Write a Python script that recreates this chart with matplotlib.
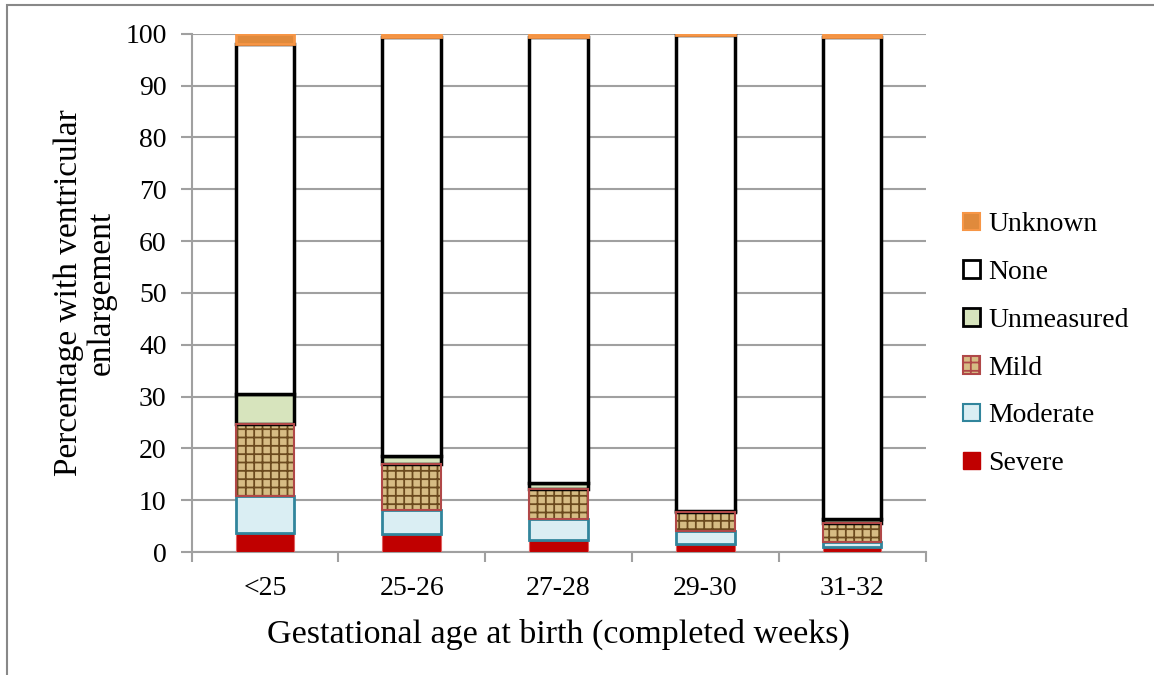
import matplotlib.pyplot as plt
import matplotlib.patches as mpatches
import numpy as np

plt.rcParams['font.family'] = ['Liberation Serif', 'DejaVu Serif']
plt.rcParams['hatch.linewidth'] = 1.3

ages = ['<25', '25-26', '27-28', '29-30', '31-32']
severe = [3.6, 3.5, 2.3, 1.5, 1.0]
moderate = [7.2, 4.6, 4.1, 2.5, 1.0]
mild = [14.0, 8.9, 5.8, 3.7, 3.7]
unmeasured = [5.7, 1.5, 1.1, 0.3, 0.7]
none = [67.5, 80.8, 86.1, 91.7, 93.0]
unknown = [2.0, 0.7, 0.6, 0.3, 0.6]

grey = '#a0a0a0'
fig = plt.figure(figsize=(11.54, 6.75), dpi=100)
ax = fig.add_axes([0.166, 0.182, 0.636, 0.768])

x = np.arange(len(ages))
w = 0.4
b = np.zeros(len(ages))

ax.bar(x, severe, w, bottom=b, color='#c00000', edgecolor='#e06060', lw=0.8, zorder=3)
b += severe
ax.bar(x, moderate, w, bottom=b, color='#daeef3', edgecolor='#31859c', lw=2, zorder=3)
b += moderate
ax.bar(x, mild, w, bottom=b, color='#d6bc84', edgecolor='#6b4a1e', hatch='++', lw=0, zorder=3)
ax.bar(x, mild, w, bottom=b, color='none', edgecolor='#b04848', lw=1.5, zorder=4)
b += mild
ax.bar(x, unmeasured, w, bottom=b, color='#d7e4bd', edgecolor='black', lw=2.5, zorder=3)
b += unmeasured
ax.bar(x, none, w, bottom=b, color='white', edgecolor='black', lw=2.5, zorder=3)
b += none
ax.bar(x, unknown, w, bottom=b, color='#e08a3c', edgecolor='#f79646', lw=2, zorder=3)

ax.set_xlim(-0.5, 4.5)
ax.set_ylim(0, 100)
ax.set_yticks(range(0, 101, 10))
ax.set_xticks(x)
ax.set_xticklabels(ages)
ax.set_xticks(np.arange(-0.5, 5, 1), minor=True)
ax.tick_params(axis='x', which='major', length=0, labelsize=20, pad=17)
ax.tick_params(axis='x', which='minor', length=7, color=grey, width=1.5)
ax.tick_params(axis='y', length=8, color=grey, width=1.5, labelsize=20, pad=10)
ax.grid(axis='y', color=grey, lw=1.5, zorder=0)
for s in ['top', 'right']:
    ax.spines[s].set_visible(False)
for s in ['left', 'bottom']:
    ax.spines[s].set_color(grey)
    ax.spines[s].set_linewidth(1.5)

ax.set_xlabel('Gestational age at birth (completed weeks)', fontsize=24.5, labelpad=13)
ax.set_ylabel('Percentage with ventricular\nenlargement', fontsize=24, labelpad=6,
              linespacing=1.1)

handles = [
    mpatches.Patch(facecolor='#e08a3c', edgecolor='#f79646', lw=1.5),
    mpatches.Patch(facecolor='white', edgecolor='black', lw=2),
    mpatches.Patch(facecolor='#d7e4bd', edgecolor='black', lw=2),
    mpatches.Patch(facecolor='#d6bc84', edgecolor='#b04848', hatch='++', lw=1.5),
    mpatches.Patch(facecolor='#daeef3', edgecolor='#31859c', lw=1.5),
    mpatches.Patch(facecolor='#c00000', edgecolor='#c00000', lw=1),
]
labels = ['Unknown', 'None', 'Unmeasured', 'Mild', 'Moderate', 'Severe']
fig.legend(handles, labels, loc='center left', bbox_to_anchor=(0.813, 0.49),
           frameon=False, fontsize=20, handlelength=0.6, handleheight=0.6,
           handletextpad=0.3, labelspacing=0.82)

fig.patches.append(mpatches.Rectangle((7 / 1154, -0.1), 1.2, 1 - 5 / 675 + 0.1,
                                      transform=fig.transFigure, fill=False,
                                      edgecolor='#888888', lw=1.5))

fig.savefig('out.png', dpi=100)
